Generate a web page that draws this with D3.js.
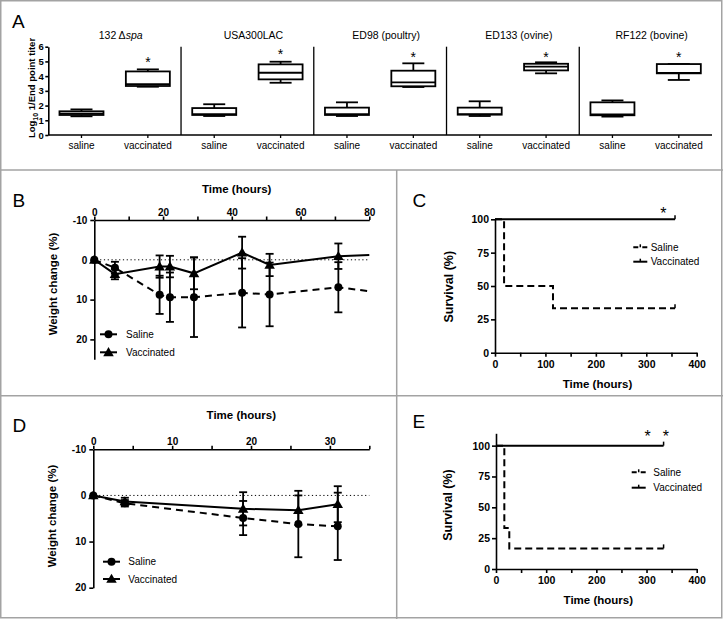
<!DOCTYPE html>
<html><head><meta charset="utf-8">
<script src="https://cdn.jsdelivr.net/npm/d3@7"></script>
<style>
body{margin:0;background:#fff;}
svg{display:block;}
</style></head><body>
<svg id="fig" width="723" height="619"></svg>
<script>
// ---------------- Panel A data ----------------
const strains = ["132 Δspa", "USA300LAC", "ED98 (poultry)", "ED133 (ovine)", "RF122 (bovine)"];
const groups = ["saline", "vaccinated"];
// [min, q1, median, q3, max]  (log10 1/end point titer)
const salineBoxes = [
  [1.27, 1.36, 1.45, 1.61, 1.74],
  [1.29, 1.36, 1.42, 1.83, 2.09],
  [1.29, 1.36, 1.42, 1.86, 2.22],
  [1.29, 1.38, 1.42, 1.86, 2.29],
  [1.25, 1.34, 1.40, 2.22, 2.35]
];
const vaccBoxes = [
  [3.28, 3.33, 3.46, 4.32, 4.46],
  [3.55, 3.78, 4.23, 4.80, 4.98],
  [3.26, 3.31, 3.58, 4.37, 4.87],
  [4.19, 4.39, 4.64, 4.84, 4.94],
  [3.74, 4.19, 4.22, 4.82, 4.82]
];
const starLevelA = [5.21, 5.75, 5.5, 5.55, 5.55];
const titerTicks = [0, 1, 2, 3, 4, 5, 6];

// ---------------- Panel B data ----------------
const bHours    = [0, 6, 19, 22, 29, 43, 51, 71, 80];
const bSaline   = [0, 2.0, 8.8, 9.4, 9.4, 8.3, 8.7, 6.9, 7.9];
const bSalineSD = [0, 1.5, 4.8, 6.2, 10.0, 8.7, 8.0, 6.3, null];
const bVacc     = [0, 3.6, 1.7, 1.7, 3.4, -1.8, 1.3, -0.9, -1.2];
const bVaccSD   = [0, 1.3, 2.8, 2.7, 4.0, 4.0, 2.8, 3.2, null];
const bXTicks = [0, 10, 20, 30, 40, 50, 60, 70, 80];
const bYTicks = [-10, 0, 10, 20];

// ---------------- Panel C data ----------------
const cSalineHours = [0, 18, 115, 357];
const cSalineSurv  = [100, 50, 33.3, 33.3];
const cVaccHours   = [0, 357];
const cVaccSurv    = [100, 100];
const cStarHours = [334];
const cStarLevel = 107.5;

// ---------------- Panel D data ----------------
const dHours    = [0, 4, 19, 26, 31];
const dSaline   = [0, 1.7, 4.9, 6.2, 6.7];
const dSalineSD = [0, 0.7, 3.7, 7.2, 7.3];
const dVacc     = [0, 1.3, 2.9, 3.2, 1.9];
const dVaccSD   = [0, 0.8, 3.6, 3.2, 3.9];
const dXTicks = [0, 5, 10, 15, 20, 25, 30, 35];
const dYTicks = [-10, 0, 10, 20];

// ---------------- Panel E data ----------------
const eSalineHours = [0, 16.6, 26.5, 334];
const eSalineSurv  = [100, 33.3, 16.7, 16.7];
const eVaccHours   = [0, 334];
const eVaccSurv    = [100, 100];
const eStarHours = [302, 338.5];
const eStarLevel = 110.5;

const survXTicks = [0, 50, 100, 150, 200, 250, 300, 350, 400];
const survYTicks = [0, 25, 50, 75, 100];
const legendNames = ["Saline", "Vaccinated"];

// ================= drawing =================
const FONT = '"Liberation Sans", Arial, Helvetica, sans-serif';
const svg = d3.select("#fig").attr("font-family", FONT);
const BORDER = "#a3a3a3";
const plain = d => String(d);

// frame
svg.append("rect").attr("x", 0.75).attr("y", 0.75).attr("width", 721).attr("height", 617)
  .attr("fill", "none").attr("stroke", BORDER).attr("stroke-width", 1.5);
svg.append("line").attr("x1", 0).attr("x2", 723).attr("y1", 170).attr("y2", 170)
  .attr("stroke", BORDER).attr("stroke-width", 1.5);
svg.append("line").attr("x1", 0).attr("x2", 723).attr("y1", 395.7).attr("y2", 395.7)
  .attr("stroke", BORDER).attr("stroke-width", 1.5);
svg.append("line").attr("x1", 396.7).attr("x2", 396.7).attr("y1", 170).attr("y2", 619)
  .attr("stroke", BORDER).attr("stroke-width", 1.5);

function panelLetter(t, x, y) {
  svg.append("text").attr("x", x).attr("y", y).attr("font-size", 19).text(t);
}
panelLetter("A", 12, 28.3);
panelLetter("B", 12.5, 206.7);
panelLetter("C", 412.5, 206.7);
panelLetter("D", 12.5, 431.5);
panelLetter("E", 412.5, 428.3);

function styleAxis(g, fs) {
  g.attr("font-family", FONT).attr("font-size", fs);
  g.select(".domain").attr("stroke", "#000").attr("stroke-width", 1.6);
  g.selectAll(".tick line").attr("stroke", "#000").attr("stroke-width", 1.6);
  g.selectAll(".tick text").attr("fill", "#000").attr("font-weight", "bold");
}
function star(x, cy, fs) {
  svg.append("text").attr("x", x).attr("y", cy + fs * 0.6).attr("text-anchor", "middle")
    .attr("font-size", fs).text("*");
}
function rotTitle(t, x, y, fs) {
  svg.append("text").attr("transform", `translate(${x},${y}) rotate(-90)`)
    .attr("text-anchor", "middle").attr("font-weight", "bold").attr("font-size", fs).text(t);
}
function hTitle(t, x, y, fs) {
  svg.append("text").attr("x", x).attr("y", y).attr("text-anchor", "middle")
    .attr("font-weight", "bold").attr("font-size", fs).text(t);
}

// ---------------- Panel A ----------------
(function () {
  const y = d3.scaleLinear().domain([0, 6]).range([135, 46.7]);
  const band = d3.scaleBand().domain(strains).range([48.3, 712]);
  const pt = d3.scalePoint().domain(groups).range([0, band.bandwidth()]).padding(0.5);
  const boxW = 44, capW = 22;
  const g = svg.append("g");

  const ya = g.append("g").attr("transform", `translate(${48.3},0)`)
    .call(d3.axisLeft(y).tickValues(titerTicks).tickFormat(plain).tickSize(3).tickPadding(1.5).tickSizeOuter(0));
  styleAxis(ya, 9.5);

  // x baseline
  g.append("line").attr("x1", 48.3).attr("x2", 712).attr("y1", y(0)).attr("y2", y(0))
    .attr("stroke", "#000").attr("stroke-width", 1.6);

  // y title with subscript
  const yt = svg.append("text").attr("transform", `translate(34.5,88) rotate(-90)`)
    .attr("text-anchor", "middle").attr("font-weight", "bold").attr("font-size", 9.5);
  yt.append("tspan").text("Log");
  yt.append("tspan").attr("font-size", 7).attr("dy", 3).text("10");
  yt.append("tspan").attr("dy", -3).text(" 1/End point titer");

  strains.forEach((s, i) => {
    const x0 = band(s);
    if (i > 0) {
      g.append("line").attr("x1", x0).attr("x2", x0).attr("y1", y(6)).attr("y2", y(0))
        .attr("stroke", "#000").attr("stroke-width", 1.3);
    }
    // title
    const t = g.append("text").attr("x", x0 + band.bandwidth() / 2 + 6).attr("y", 39)
      .attr("text-anchor", "middle").attr("font-size", 10.5);
    const m = s.match(/^(.*Δ)(spa)$/);
    if (m) {
      t.append("tspan").text(m[1]);
      t.append("tspan").attr("font-style", "italic").text(m[2]);
    } else t.text(s);

    groups.forEach((grp) => {
      const st = grp === "saline" ? salineBoxes[i] : vaccBoxes[i];
      const cx = x0 + pt(grp);
      const [mn, q1, md, q3, mx] = st;
      const sw = 1.8;
      g.append("line").attr("x1", cx).attr("x2", cx).attr("y1", y(mx)).attr("y2", y(q3)).attr("stroke", "#000").attr("stroke-width", sw);
      g.append("line").attr("x1", cx).attr("x2", cx).attr("y1", y(q1)).attr("y2", y(mn)).attr("stroke", "#000").attr("stroke-width", sw);
      g.append("line").attr("x1", cx - capW / 2).attr("x2", cx + capW / 2).attr("y1", y(mx)).attr("y2", y(mx)).attr("stroke", "#000").attr("stroke-width", sw);
      g.append("line").attr("x1", cx - capW / 2).attr("x2", cx + capW / 2).attr("y1", y(mn)).attr("y2", y(mn)).attr("stroke", "#000").attr("stroke-width", sw);
      g.append("rect").attr("x", cx - boxW / 2).attr("y", y(q3)).attr("width", boxW).attr("height", y(q1) - y(q3))
        .attr("fill", "#fff").attr("stroke", "#000").attr("stroke-width", sw);
      g.append("line").attr("x1", cx - boxW / 2).attr("x2", cx + boxW / 2).attr("y1", y(md)).attr("y2", y(md)).attr("stroke", "#000").attr("stroke-width", sw);
      // category tick and label
      g.append("line").attr("x1", cx).attr("x2", cx).attr("y1", y(0)).attr("y2", y(0) + 3).attr("stroke", "#000").attr("stroke-width", 1.3);
      g.append("text").attr("x", cx).attr("y", 148.5).attr("text-anchor", "middle").attr("font-size", 10).text(grp);
    });
    star(x0 + pt("vaccinated"), y(starLevelA[i]), 14);
  });
})();

// ---------------- weight-change panels ----------------
function weightPanel(opt) {
  const { hours, sal, salSD, vac, vacSD, x, y, xTicks, xMajor, yTicks, legend } = opt;
  const g = svg.append("g");
  const xa = g.append("g").attr("transform", `translate(0,${y.range()[0]})`)
    .call(d3.axisTop(x).tickValues(xTicks).tickFormat(d => (d % xMajor === 0 ? String(d) : "")).tickSize(3.5).tickPadding(1).tickSizeOuter(0));
  styleAxis(xa, 10);
  const ya = g.append("g").attr("transform", `translate(${x.range()[0]},0)`)
    .call(d3.axisLeft(y).tickValues(yTicks).tickFormat(plain).tickSize(4).tickPadding(3).tickSizeOuter(0));
  styleAxis(ya, 10);
  // dotted zero line
  g.append("line").attr("x1", x(0) + 2).attr("x2", x.range()[1]).attr("y1", y(0)).attr("y2", y(0))
    .attr("stroke", "#000").attr("stroke-width", 1).attr("stroke-dasharray", "1.2,2.6");

  const line = d3.line().x(d => x(d[0])).y(d => y(d[1]));
  const salPts = hours.map((h, i) => [h, sal[i]]);
  const vacPts = hours.map((h, i) => [h, vac[i]]);
  g.append("path").attr("d", line(salPts)).attr("fill", "none").attr("stroke", "#000")
    .attr("stroke-width", 2).attr("stroke-dasharray", "7,5");
  g.append("path").attr("d", line(vacPts)).attr("fill", "none").attr("stroke", "#000")
    .attr("stroke-width", 2);

  function errs(vals, sds) {
    hours.forEach((h, i) => {
      const sd = sds[i];
      if (sd == null || sd === 0) return;
      const cx = x(h), lo = y(vals[i] - sd), hi = y(vals[i] + sd);
      g.append("line").attr("x1", cx).attr("x2", cx).attr("y1", lo).attr("y2", hi).attr("stroke", "#000").attr("stroke-width", 1.8);
      [lo, hi].forEach(yy => g.append("line").attr("x1", cx - 4).attr("x2", cx + 4).attr("y1", yy).attr("y2", yy).attr("stroke", "#000").attr("stroke-width", 1.8));
    });
  }
  errs(sal, salSD);
  errs(vac, vacSD);
  const tri = d3.symbol(d3.symbolTriangle, 48)();
  hours.forEach((h, i) => {
    if (salSD[i] != null)
      g.append("circle").attr("cx", x(h)).attr("cy", y(sal[i])).attr("r", 4).attr("fill", "#000");
    if (vacSD[i] != null)
      g.append("path").attr("d", tri).attr("transform", `translate(${x(h)},${y(vac[i]) + 0.8})`).attr("fill", "#000");
  });
  // legend
  legend.rows.forEach((ry, k) => {
    g.append("line").attr("x1", legend.x1).attr("x2", legend.x2).attr("y1", ry).attr("y2", ry)
      .attr("stroke", "#000").attr("stroke-width", 2);
    const mx = (legend.x1 + legend.x2) / 2;
    if (k === 0) g.append("circle").attr("cx", mx).attr("cy", ry).attr("r", 4).attr("fill", "#000");
    else g.append("path").attr("d", tri).attr("transform", `translate(${mx},${ry + 0.8})`).attr("fill", "#000");
    g.append("text").attr("x", legend.tx).attr("y", ry + 3.6).attr("font-size", 10).text(legendNames[k]);
  });
}

weightPanel({
  hours: bHours, sal: bSaline, salSD: bSalineSD, vac: bVacc, vacSD: bVaccSD,
  x: d3.scaleLinear().domain([0, 80]).range([94.3, 369.3]),
  y: d3.scaleLinear().domain([-10, 25]).range([220, 359.3]),
  xTicks: bXTicks, xMajor: 20, yTicks: bYTicks,
  legend: { x1: 100, x2: 117, tx: 126, rows: [334.3, 352.3] }
});
hTitle("Time (hours)", 236.7, 192.5, 11.5);
rotTitle("Weight change (%)", 56.5, 284, 11.5);

weightPanel({
  hours: dHours, sal: dSaline, salSD: dSalineSD, vac: dVacc, vacSD: dVaccSD,
  x: d3.scaleLinear().domain([0, 35]).range([93.3, 369.3]),
  y: d3.scaleLinear().domain([-10, 20]).range([449.3, 587.7]),
  xTicks: dXTicks, xMajor: 10, yTicks: dYTicks,
  legend: { x1: 103, x2: 120, tx: 128.3, rows: [561.7, 579] }
});
hTitle("Time (hours)", 241.3, 418.5, 11.5);
rotTitle("Weight change (%)", 56, 516, 11.5);

// ---------------- survival panels ----------------
function survPanel(opt) {
  const { sH, sS, vH, vS, x, y, stars, starLevel, legend } = opt;
  const g = svg.append("g");
  const xa = g.append("g").attr("transform", `translate(0,${y(0)})`)
    .call(d3.axisBottom(x).tickValues(survXTicks).tickFormat(d => (d % 100 === 0 ? String(d) : "")).tickSize(4).tickPadding(4).tickSizeOuter(0));
  styleAxis(xa, 10.5);
  const ya = g.append("g").attr("transform", `translate(${x(0)},0)`)
    .call(d3.axisLeft(y).tickValues(survYTicks).tickFormat(plain).tickSize(4).tickPadding(2).tickSizeOuter(0));
  styleAxis(ya, 10.5);

  const step = d3.line().curve(d3.curveStepAfter).x(d => x(d[0])).y(d => y(d[1]));
  const sPts = sH.map((h, i) => [h, sS[i]]);
  const vPts = vH.map((h, i) => [h, vS[i]]);
  g.append("path").attr("d", step(sPts)).attr("fill", "none").attr("stroke", "#000")
    .attr("stroke-width", 2).attr("stroke-dasharray", "7,4");
  g.append("path").attr("d", step(vPts)).attr("fill", "none").attr("stroke", "#000")
    .attr("stroke-width", 2);
  // censor ticks at ends
  [sPts[sPts.length - 1], vPts[vPts.length - 1]].forEach(p => {
    g.append("line").attr("x1", x(p[0])).attr("x2", x(p[0])).attr("y1", y(p[1])).attr("y2", y(p[1]) - 4)
      .attr("stroke", "#000").attr("stroke-width", 1.5);
  });
  stars.forEach(h => star(x(h), y(starLevel), 16));
  // legend
  legend.rows.forEach((ry, k) => {
    const l = g.append("line").attr("x1", legend.x1).attr("x2", legend.x2).attr("y1", ry).attr("y2", ry)
      .attr("stroke", "#000").attr("stroke-width", 2);
    if (k === 0) l.attr("stroke-dasharray", "5,4");
    const mx = (legend.x1 + legend.x2) / 2;
    g.append("line").attr("x1", mx).attr("x2", mx).attr("y1", ry).attr("y2", ry - 3)
      .attr("stroke", "#000").attr("stroke-width", 1.5);
    g.append("text").attr("x", legend.tx).attr("y", ry + 3.6).attr("font-size", 10).text(legendNames[k]);
  });
}

survPanel({
  sH: cSalineHours, sS: cSalineSurv, vH: cVaccHours, vS: cVaccSurv,
  x: d3.scaleLinear().domain([0, 400]).range([495, 696.7]),
  y: d3.scaleLinear().domain([0, 100]).range([352.7, 219.3]),
  stars: cStarHours, starLevel: cStarLevel,
  legend: { x1: 633.3, x2: 647.3, tx: 650.7, rows: [247.3, 261.7] }
});
hTitle("Time (hours)", 597.5, 387.5, 11.5);
rotTitle("Survival (%)", 453, 286.7, 12.5);

survPanel({
  sH: eSalineHours, sS: eSalineSurv, vH: eVaccHours, vS: eVaccSurv,
  x: d3.scaleLinear().domain([0, 400]).range([496, 696.7]),
  y: d3.scaleLinear().domain([0, 110]).range([569, 433.3]),
  stars: eStarHours, starLevel: eStarLevel,
  legend: { x1: 631.7, x2: 645.7, tx: 653.3, rows: [472.3, 487.7] }
});
hTitle("Time (hours)", 598.3, 604.3, 11.5);
rotTitle("Survival (%)", 451.5, 505, 12.5);
</script>
</body></html>
